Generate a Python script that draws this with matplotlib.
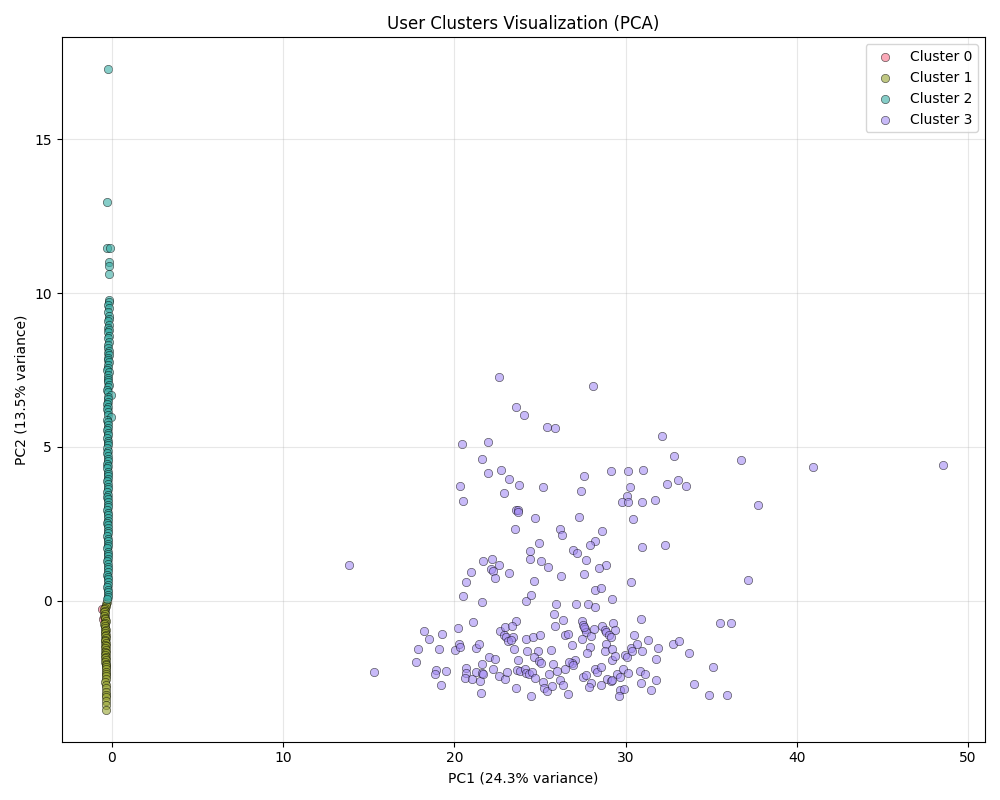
import numpy as np
import matplotlib.pyplot as plt
import seaborn as sns

# cluster 0 (mostly hidden under cluster 1)
c0_x = [-0.55, -0.52]
c0_y = [-0.27, -0.58]

# cluster 1
c1_y = [-0.05, -0.10, -0.16, -0.22, -0.28, -0.33, -0.38, -0.44, -0.50, -0.55,
        -0.60, -0.66, -0.72, -0.77, -0.82, -0.88, -0.94, -0.99, -1.04, -1.10,
        -1.16, -1.21, -1.26, -1.32, -1.38, -1.43, -1.48, -1.54, -1.60, -1.65,
        -1.70, -1.76, -1.82, -1.87, -1.92, -1.98, -2.04, -2.09, -2.15, -2.22,
        -2.30, -2.38, -2.46, -2.55, -2.64, -2.74, -2.85, -2.96, -3.05, -3.14,
        -3.26, -3.38, -3.54]
c1_x = [-0.30, -0.33, -0.36, -0.40, -0.45, -0.42, -0.47, -0.40, -0.44, -0.38,
        -0.42, -0.36, -0.40, -0.44, -0.38, -0.41, -0.35, -0.39, -0.43, -0.37,
        -0.40, -0.34, -0.38, -0.42, -0.36, -0.40, -0.37, -0.41, -0.35, -0.39,
        -0.36, -0.40, -0.34, -0.38, -0.35, -0.39, -0.33, -0.37, -0.34, -0.32,
        -0.36, -0.33, -0.37, -0.34, -0.38, -0.35, -0.33, -0.36, -0.34, -0.32,
        -0.35, -0.33, -0.32]

# cluster 2
c2_y = [17.27, 12.97, 11.48, 11.46, 11.02, 10.88, 10.62,
        9.76, 9.70, 9.62, 9.52, 9.38, 9.25, 9.15, 9.08, 8.95, 8.88,
        8.80, 8.72, 8.62, 8.55, 8.40, 8.30, 8.22, 8.12, 8.05, 7.98,
        7.90, 7.82, 7.75, 7.66, 7.58, 7.50, 7.42, 7.35, 7.25, 7.18,
        7.10, 7.02, 6.95, 6.86, 6.78, 6.70, 6.62, 6.55, 6.45, 6.38,
        6.30, 6.22, 6.15, 6.05, 5.96, 5.88, 5.80, 5.72, 5.62, 5.55,
        5.46, 5.38, 5.30, 5.20, 5.12, 5.05, 4.96, 4.88, 4.80, 4.72,
        4.62, 4.55, 4.46, 4.38, 4.30, 4.20, 4.12, 4.05, 3.96, 3.88,
        3.80, 3.70, 3.62, 3.55, 3.45, 3.38, 3.30, 3.20, 3.12, 3.05,
        2.95, 2.86, 2.78, 2.70, 2.60, 2.52, 2.45, 2.35, 2.28, 2.20,
        2.10, 2.02, 1.95, 1.85, 1.78, 1.70, 1.60, 1.52, 1.45, 1.35,
        1.28, 1.20, 1.10, 1.02, 0.95, 0.85, 0.78, 0.70, 0.60, 0.52,
        0.45, 0.35, 0.28, 0.20, 0.12, 0.05]
c2_x = [-0.23, -0.29, -0.27, -0.13, -0.15, -0.16, -0.15,
        -0.18, -0.16, -0.20, -0.17, -0.21, -0.19, -0.16, -0.22, -0.18, -0.20,
        -0.17, -0.21, -0.19, -0.23, -0.18, -0.20, -0.24, -0.19, -0.22, -0.17,
        -0.21, -0.25, -0.19, -0.23, -0.20, -0.26, -0.18, -0.22, -0.25, -0.20,
        -0.24, -0.19, -0.23, -0.27, -0.21, -0.05, -0.25, -0.20, -0.24, -0.28,
        -0.22, -0.26, -0.20, -0.24, -0.07, -0.27, -0.21, -0.25, -0.22, -0.26,
        -0.20, -0.24, -0.27, -0.22, -0.25, -0.21, -0.26, -0.23, -0.27, -0.22,
        -0.25, -0.21, -0.26, -0.23, -0.27, -0.22, -0.25, -0.20, -0.24, -0.27,
        -0.22, -0.25, -0.21, -0.26, -0.23, -0.27, -0.22, -0.25, -0.21, -0.24,
        -0.26, -0.22, -0.25, -0.21, -0.24, -0.27, -0.22, -0.25, -0.21, -0.24,
        -0.26, -0.22, -0.25, -0.21, -0.24, -0.27, -0.22, -0.25, -0.21, -0.24,
        -0.26, -0.22, -0.25, -0.21, -0.24, -0.27, -0.22, -0.25, -0.21, -0.24,
        -0.26, -0.22, -0.25, -0.21, -0.24, -0.27]

# cluster 3
c3_pts = [
    (22.62, 7.26), (28.11, 6.97), (23.62, 6.29), (24.08, 6.03), (25.43, 5.64),
    (25.89, 5.61), (32.14, 5.35), (20.46, 5.10), (21.98, 5.15), (21.63, 4.60),
    (21.98, 4.15), (22.74, 4.24), (23.21, 3.95), (23.79, 3.76), (25.19, 3.69),
    (27.59, 4.05), (29.17, 4.21), (30.16, 4.21), (31.03, 4.24), (20.34, 3.72),
    (22.92, 3.50), (27.41, 3.56), (30.28, 3.69), (32.40, 3.79), (20.52, 3.24),
    (30.10, 3.40), (29.81, 3.20), (30.16, 3.20), (30.97, 3.20), (31.73, 3.27),
    (23.62, 2.94), (23.73, 2.96), (23.73, 2.87), (24.73, 2.68), (27.30, 2.72),
    (30.45, 2.65), (23.56, 2.33), (26.19, 2.33), (26.30, 2.13), (28.60, 2.26),
    (24.96, 1.87), (28.23, 1.94), (27.94, 1.81), (30.97, 1.74), (32.32, 1.81),
    (26.95, 1.65), (27.18, 1.55), (24.43, 1.61), (13.86, 1.16), (21.69, 1.29),
    (22.21, 1.35), (22.62, 1.16), (22.16, 1.03), (22.27, 0.96), (24.43, 1.35),
    (25.08, 1.29), (25.49, 1.09), (27.70, 1.32), (28.87, 1.16), (28.46, 1.06),
    (20.99, 0.93), (23.21, 0.90), (22.39, 0.74), (26.24, 0.80), (27.59, 0.87),
    (20.70, 0.61), (24.67, 0.64), (30.33, 0.61), (20.52, 0.15), (21.63, -0.04),
    (24.20, -0.01), (24.49, 0.19), (25.95, -0.11), (27.12, -0.11), (27.82, -0.11),
    (28.23, -0.19), (28.23, 0.36), (28.58, 0.41), (29.22, 0.05),
    (32.85, 4.70), (36.76, 4.57), (40.96, 4.34), (48.56, 4.41), (33.08, 3.92),
    (33.55, 3.72), (37.75, 3.11), (37.17, 0.67),
    (25.84, -0.43), (26.36, -0.63), (25.89, -0.82), (23.62, -0.66), (21.11, -0.69),
    (18.24, -0.98), (19.29, -1.08), (20.23, -0.89), (18.53, -1.24), (22.68, -0.98),
    (22.97, -0.85), (23.35, -0.82), (22.92, -1.11), (23.03, -1.18), (23.44, -1.18),
    (23.15, -1.31), (23.32, -1.28), (24.20, -1.24), (24.61, -1.18), (25.02, -1.11),
    (26.48, -1.11), (26.65, -1.08), (17.89, -1.57), (19.12, -1.57), (20.05, -1.60),
    (20.29, -1.41), (20.34, -1.50), (21.28, -1.54), (21.46, -1.41), (23.50, -1.57),
    (24.26, -1.63), (24.90, -1.63), (25.66, -1.60), (17.77, -1.99), (22.04, -1.83),
    (22.39, -1.89), (21.63, -2.06), (23.73, -1.93), (24.67, -1.83), (24.96, -1.96),
    (25.08, -2.02), (25.78, -2.06), (15.32, -2.31), (18.94, -2.25), (18.88, -2.38),
    (19.53, -2.28), (19.24, -2.74), (20.70, -2.19), (20.70, -2.35), (20.64, -2.51),
    (21.05, -2.54), (21.28, -2.31), (21.51, -2.61), (21.63, -2.35), (21.69, -2.38),
    (21.57, -3.00), (22.27, -2.22), (22.62, -2.44), (22.97, -2.54), (23.09, -2.31),
    (23.62, -2.83), (23.67, -2.25), (23.85, -2.28), (24.14, -2.22), (24.20, -2.35),
    (24.37, -2.38), (24.55, -2.31), (24.73, -2.51), (24.49, -3.09), (25.19, -2.64),
    (25.25, -2.83), (25.43, -2.93), (25.54, -2.38), (25.72, -2.77), (26.01, -2.28),
    (26.19, -2.57), (26.36, -2.74), (26.48, -2.22),
    (26.89, -1.44), (27.47, -0.66), (27.53, -0.79), (27.65, -0.92), (27.70, -1.02),
    (27.59, -0.85), (27.47, -1.24), (28.00, -1.15), (28.17, -0.92), (28.64, -0.82),
    (28.81, -0.95), (28.87, -1.02), (29.28, -0.72), (29.40, -0.95), (29.05, -1.11),
    (29.16, -1.18), (30.92, -0.59), (27.94, -1.50), (27.76, -1.70), (28.87, -1.41),
    (28.81, -1.63), (29.22, -1.57), (29.22, -1.93), (29.40, -1.80), (29.98, -1.76),
    (30.10, -1.83), (30.33, -1.54), (30.39, -1.63), (30.68, -1.41), (30.51, -1.11),
    (30.98, -1.63), (31.33, -1.28), (31.91, -1.54), (31.79, -1.89), (32.79, -1.41),
    (33.14, -1.31), (33.72, -1.70), (35.53, -0.72), (36.17, -0.72), (35.12, -2.15),
    (34.01, -2.70), (34.89, -3.06), (35.94, -3.06), (27.06, -1.93), (26.89, -2.02),
    (26.71, -1.99), (26.95, -2.09), (26.65, -3.03), (27.53, -2.48), (27.70, -2.41),
    (28.00, -2.67), (27.88, -2.80), (28.23, -2.22), (28.35, -2.31), (28.58, -2.15),
    (28.58, -2.74), (28.93, -2.54), (29.16, -2.61), (29.22, -2.57), (29.51, -2.38),
    (29.69, -2.48), (29.86, -2.22), (30.16, -2.35), (29.69, -2.90), (29.63, -3.09),
    (29.92, -2.87), (30.86, -2.28), (31.15, -2.38), (30.92, -2.67), (31.50, -2.90),
    (31.79, -2.57),
]
c3_x = [p[0] for p in c3_pts]
c3_y = [p[1] for p in c3_pts]

cluster_names = ["Cluster 0", "Cluster 1", "Cluster 2", "Cluster 3"]
colors = sns.color_palette("husl", 4)

fig, ax = plt.subplots(figsize=(10, 8), dpi=100)
for i, (xs, ys) in enumerate([(c0_x, c0_y), (c1_x, c1_y), (c2_x, c2_y), (c3_x, c3_y)]):
    ax.scatter(xs, ys, color=colors[i], label=cluster_names[i], s=36,
               alpha=0.6, edgecolors='black', linewidths=0.5)

ax.set_xlim(-2.92, 50.99)
ax.set_ylim(-4.58, 18.31)
ax.set_title("User Clusters Visualization (PCA)")
ax.set_xlabel("PC1 (24.3% variance)")
ax.set_ylabel("PC2 (13.5% variance)")
ax.legend()
ax.grid(True, alpha=0.3)

fig.tight_layout()
plt.savefig('out.png')
